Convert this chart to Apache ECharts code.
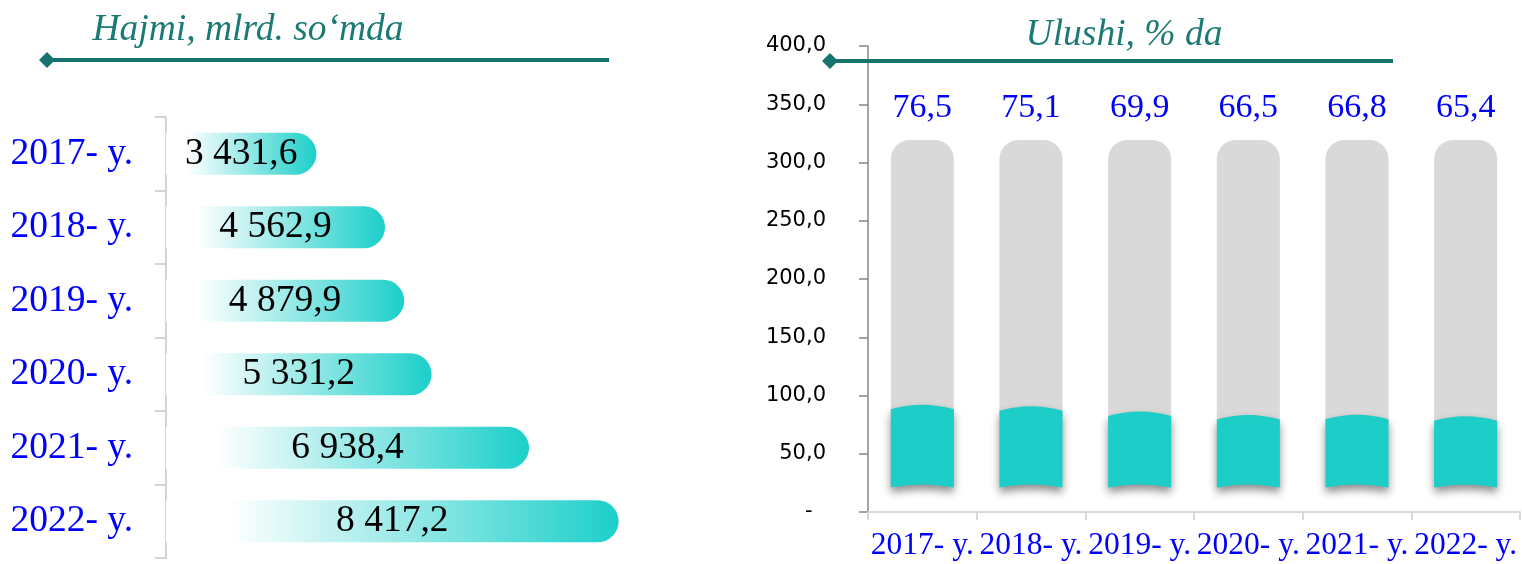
<!DOCTYPE html>
<html>
<head>
<meta charset="utf-8">
<title>Hajmi va ulushi</title>
<script src="https://cdn.jsdelivr.net/npm/echarts@6/dist/echarts.min.js"></script>
<style>
  html, body { margin: 0; padding: 0; background: #fff; }
  #chart { width: 1522px; height: 564px; }
</style>
</head>
<body>
<div id="chart"></div>
<script>
// ma'lumotlar
const years = ['2017- y.', '2018- y.', '2019- y.', '2020- y.', '2021- y.', '2022- y.']
const volume = [3431.6, 4562.9, 4879.9, 5331.2, 6938.4, 8417.2]
const share = [76.5, 75.1, 69.9, 66.5, 66.8, 65.4]
const backdrop = [340, 340, 340, 340, 340, 340]
const shareTicks = [0, 50, 100, 150, 200, 250, 300, 350, 400]

const TEAL = '#1b7a74'
const BLUE = '#0000ff'
const SERIF = '"Liberation Serif", "Times New Roman", serif'

function fmt (v) {
  let parts = v.toFixed(1).split('.')
  return parts[0].replace(/\B(?=(\d{3})+(?!\d))/g, ' ') + ',' + parts[1]
}

// silindr ko'rinishidagi ustun
function renderCylinder (params, api) {
  let i = api.value(0)
  let base = api.coord([i, 0])
  let top = api.coord([i, api.value(1)])
  let cap = api.coord([i, api.value(2)])
  let w = api.size([1, 0])[0] * 0.58
  let xc = base[0]
  let x0 = xc - w / 2
  let x1 = xc + w / 2
  let path = 'M' + x0 + ' ' + top[1] +
    ' Q' + xc + ' ' + (top[1] - 9) + ' ' + x1 + ' ' + top[1] +
    ' L' + x1 + ' ' + base[1] +
    ' Q' + xc + ' ' + (base[1] - 6) + ' ' + x0 + ' ' + base[1] + ' Z'
  return {
    type: 'group',
    children: [
      {
        type: 'rect',
        shape: { x: x0, y: cap[1], width: w, height: top[1] - cap[1] + 6, r: [19, 19, 0, 0] },
        style: { fill: '#d9d9d9' }
      },
      {
        type: 'path',
        shape: { pathData: path },
        style: {
          fill: '#1ccdc8',
          shadowBlur: 9,
          shadowColor: 'rgba(0,0,0,0.45)',
          shadowOffsetY: 5
        }
      },
      {
        type: 'text',
        style: {
          text: fmt(share[params.dataIndex]),
          x: xc,
          y: cap[1] - 32,
          align: 'center',
          verticalAlign: 'middle',
          font: '34px ' + SERIF,
          fill: BLUE
        }
      }
    ]
  }
}

let chart = echarts.init(document.getElementById('chart'))

chart.setOption({
  animation: false,
  grid: [
    { left: 166, top: 117, width: 488, height: 441 },
    { left: 868, right: 2, top: 46, bottom: 52 }
  ],
  xAxis: [
    { type: 'value', gridIndex: 0, min: 950, max: 9000, show: false },
    {
      type: 'category',
      gridIndex: 1,
      data: years,
      axisLine: { lineStyle: { color: '#d9d9d9', width: 2 } },
      axisTick: { show: true, length: 8, lineStyle: { color: '#d9d9d9', width: 2 } },
      axisLabel: { interval: 0, color: BLUE, fontSize: 31.5, fontFamily: SERIF, margin: 18 }
    }
  ],
  yAxis: [
    {
      type: 'category',
      gridIndex: 0,
      inverse: true,
      data: years,
      axisLine: { show: true, lineStyle: { color: '#d4d4d4', width: 2 } },
      axisTick: { show: true, length: 11, lineStyle: { color: '#d4d4d4', width: 2 } },
      axisLabel: { color: BLUE, fontSize: 37.5, fontFamily: SERIF, margin: 33 }
    },
    {
      type: 'value',
      gridIndex: 1,
      min: shareTicks[0],
      max: shareTicks[shareTicks.length - 1],
      interval: shareTicks[1] - shareTicks[0],
      splitLine: { show: false },
      axisLine: { show: true, lineStyle: { color: '#868686', width: 1.5 } },
      axisTick: { show: true, length: 9, lineStyle: { color: '#868686', width: 1.5 } },
      axisLabel: {
        color: '#000',
        fontSize: 21,
        fontFamily: '"DejaVu Sans", sans-serif',
        margin: 42,
        formatter: v => (v === 0 ? '-  ' : fmt(v))
      }
    },
    // ustunlar uchun yashirin o'q
    { type: 'value', gridIndex: 1, min: -24, max: 432, show: false }
  ],
  graphic: [
    {
      type: 'text',
      x: 248,
      y: 30,
      style: { text: 'Hajmi, mlrd. so‘mda', font: 'italic 37.5px ' + SERIF, fill: TEAL, textAlign: 'center', textVerticalAlign: 'middle' }
    },
    { type: 'line', shape: { x1: 47, y1: 60, x2: 609, y2: 60 }, style: { stroke: '#16736d', lineWidth: 4 } },
    { type: 'polygon', shape: { points: [[39, 60], [47, 52], [55, 60], [47, 68]] }, style: { fill: '#16736d' } },
    {
      type: 'text',
      x: 1124,
      y: 35,
      z: 10,
      style: { text: 'Ulushi, % da', font: 'italic 37.5px ' + SERIF, fill: TEAL, textAlign: 'center', textVerticalAlign: 'middle' }
    },
    { type: 'line', z: 10, shape: { x1: 830, y1: 61, x2: 1393, y2: 61 }, style: { stroke: '#16736d', lineWidth: 4 } },
    { type: 'polygon', z: 10, shape: { points: [[822, 61], [830, 53], [838, 61], [830, 69]] }, style: { fill: '#16736d' } }
  ],
  series: [
    {
      type: 'bar',
      xAxisIndex: 0,
      yAxisIndex: 0,
      data: volume,
      barWidth: 42,
      clip: true,
      itemStyle: {
        borderRadius: [0, 21, 21, 0],
        color: new echarts.graphic.LinearGradient(0, 0, 1, 0, [
          { offset: 0, color: '#ffffff' },
          { offset: 0.14, color: '#ffffff' },
          { offset: 1, color: '#1ccfca' }
        ])
      },
      label: {
        show: true,
        position: 'inside',
        color: '#000',
        fontSize: 37.5,
        fontFamily: SERIF,
        formatter: p => fmt(p.value)
      }
    },
    {
      type: 'custom',
      xAxisIndex: 1,
      yAxisIndex: 2,
      renderItem: renderCylinder,
      encode: { x: 0, y: 1 },
      data: share.map((v, i) => [i, v, backdrop[i]])
    }
  ]
})

window.addEventListener('resize', () => chart.resize())
</script>
</body>
</html>
